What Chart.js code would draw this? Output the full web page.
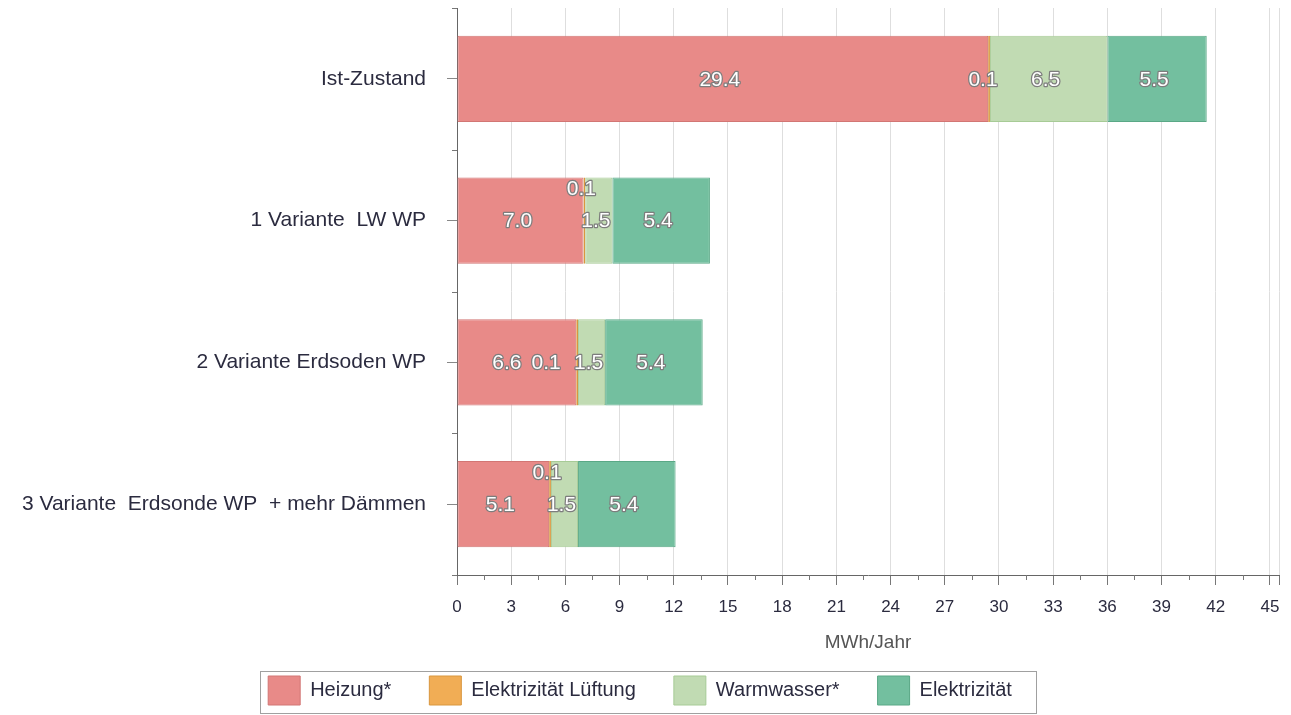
<!DOCTYPE html>
<html>
<head>
<meta charset="utf-8">
<script src="https://cdn.jsdelivr.net/npm/chart.js@4.4.1/dist/chart.umd.min.js"></script>
<style>
  html, body { margin: 0; padding: 0; background: #ffffff; }
  #wrap { width: 1291px; height: 715px; }
</style>
</head>
<body>
<div id="wrap"><canvas id="energy" width="1291" height="715"></canvas></div>
<script>
// Annual energy demand per scenario, in MWh/Jahr
const categories = [
  'Ist-Zustand',
  '1 Variante  LW WP',
  '2 Variante Erdsoden WP',
  '3 Variante  Erdsonde WP  + mehr Dämmen'
];
const heizung       = [29.4, 7.0, 6.6, 5.1];
const lueftung      = [0.1, 0.1, 0.1, 0.1];
const warmwasser    = [6.5, 1.5, 1.5, 1.5];
const elektrizitaet = [5.5, 5.4, 5.4, 5.4];

const xTickValues = [0, 3, 6, 9, 12, 15, 18, 21, 24, 27, 30, 33, 36, 39, 42, 45];
const xMax = 45.5;

// Small label offsets (px) where neighbouring value labels would collide
const labelNudge = {
  0: { 2: [-7, 0] },
  1: { 0: [-3, 0], 1: [0, -32], 2: [-28, 0], 3: [0, -32] }
};

const FONT = '"Liberation Sans", Arial, sans-serif';
const TEXT = '#2b2b3f';

const valueLabels = {
  id: 'valueLabels',
  afterDatasetsDraw(chart) {
    const ctx = chart.ctx;
    ctx.save();
    ctx.font = '21px ' + FONT;
    ctx.textAlign = 'center';
    ctx.textBaseline = 'middle';
    ctx.lineJoin = 'round';
    chart.data.datasets.forEach((ds, di) => {
      const meta = chart.getDatasetMeta(di);
      meta.data.forEach((bar, i) => {
        const shift = (labelNudge[di] && labelNudge[di][i]) || [0, 0];
        const x = (bar.x + bar.base) / 2 - 3 + shift[0];
        const y = bar.y + 1 + shift[1];
        const t = ds.data[i].toFixed(1);
        ctx.strokeStyle = '#7d7d7d';
        ctx.lineWidth = 2.5;
        ctx.strokeText(t, x, y);
        ctx.fillStyle = '#ffffff';
        ctx.fillText(t, x, y);
      });
    });
    ctx.restore();
  }
};

// Minor tick marks on both axes and the frame around the legend
const axisExtras = {
  id: 'axisExtras',
  afterDraw(chart) {
    const { x, y } = chart.scales;
    const ctx = chart.ctx;
    ctx.save();
    ctx.strokeStyle = '#777777';
    ctx.lineWidth = 1;
    ctx.beginPath();
    for (let i = 0; i < xTickValues.length - 1; i++) {
      const v = (xTickValues[i] + xTickValues[i + 1]) / 2;
      const px = Math.round(x.getPixelForValue(v)) + 0.5;
      ctx.moveTo(px, x.top);
      ctx.lineTo(px, x.top + 5);
    }
    for (let i = 0; i <= categories.length; i++) {
      const py = Math.round(y.getPixelForValue(i - 0.5)) + 0.5;
      ctx.moveTo(y.right - 5, py);
      ctx.lineTo(y.right, py);
    }
    ctx.stroke();

    const lg = chart.legend;
    const hb = lg.legendHitBoxes;
    if (hb && hb.length) {
      const first = hb[0], last = hb[hb.length - 1];
      const pad = lg.options.labels.padding;
      const left = Math.round(first.left - 8) + 0.5;
      const right = Math.round(last.left + last.width + 24) + 0.5;
      const top = Math.round(lg.top + pad - 5) + 0.5;
      const bottom = chart.height - 1.5;
      ctx.strokeStyle = '#a0a0a0';
      ctx.strokeRect(left, top, right - left, bottom - top);
    }
    ctx.restore();
  }
};

new Chart(document.getElementById('energy'), {
  type: 'bar',
  data: {
    labels: categories,
    datasets: [
      { label: 'Heizung*', data: heizung, backgroundColor: '#e88a88', borderColor: '#d27674' },
      { label: 'Elektrizität Lüftung', data: lueftung, backgroundColor: '#f1ad55', borderColor: '#d9973f' },
      { label: 'Warmwasser*', data: warmwasser, backgroundColor: '#c1dbb3', borderColor: '#a7cb96' },
      { label: 'Elektrizität', data: elektrizitaet, backgroundColor: '#73bf9f', borderColor: '#5aa886' }
    ]
  },
  options: {
    indexAxis: 'y',
    responsive: false,
    animation: false,
    layout: { padding: { top: 8, right: 11, left: 0, bottom: 0 } },
    datasets: {
      bar: {
        borderWidth: 1,
        borderSkipped: false,
        categoryPercentage: 1,
        barPercentage: 0.607
      }
    },
    scales: {
      x: {
        stacked: true,
        min: 0,
        max: xMax,
        afterBuildTicks(scale) {
          scale.ticks = xTickValues.concat([xMax]).map(value => ({ value }));
        },
        afterFit(scale) { scale.height = 63; },
        ticks: {
          autoSkip: false,
          maxRotation: 0,
          padding: 12,
          color: TEXT,
          font: { family: FONT, size: 17 },
          callback: (value) => xTickValues.includes(value) ? String(value) : ''
        },
        grid: { color: '#dedede', lineWidth: 1, tickColor: '#777777', tickLength: 10 },
        border: { color: '#666666', width: 1 },
        title: {
          display: true,
          text: 'MWh/Jahr',
          color: '#555555',
          font: { family: FONT, size: 19 },
          padding: { top: 0, bottom: -16 }
        }
      },
      y: {
        stacked: true,
        afterFit(scale) {
          scale.width = 457;
          scale.paddingTop = 0;
          scale.paddingBottom = 0;
        },
        ticks: {
          padding: 21,
          color: TEXT,
          font: { family: FONT, size: 21 }
        },
        grid: { drawOnChartArea: false, offset: false, tickColor: '#888888', tickLength: 10 },
        border: { color: '#666666', width: 1 }
      }
    },
    plugins: {
      legend: {
        position: 'bottom',
        labels: {
          boxWidth: 32,
          boxHeight: 29,
          padding: 38,
          color: TEXT,
          font: { family: FONT, size: 20 }
        }
      },
      tooltip: { enabled: false }
    }
  },
  plugins: [valueLabels, axisExtras]
});
</script>
</body>
</html>
